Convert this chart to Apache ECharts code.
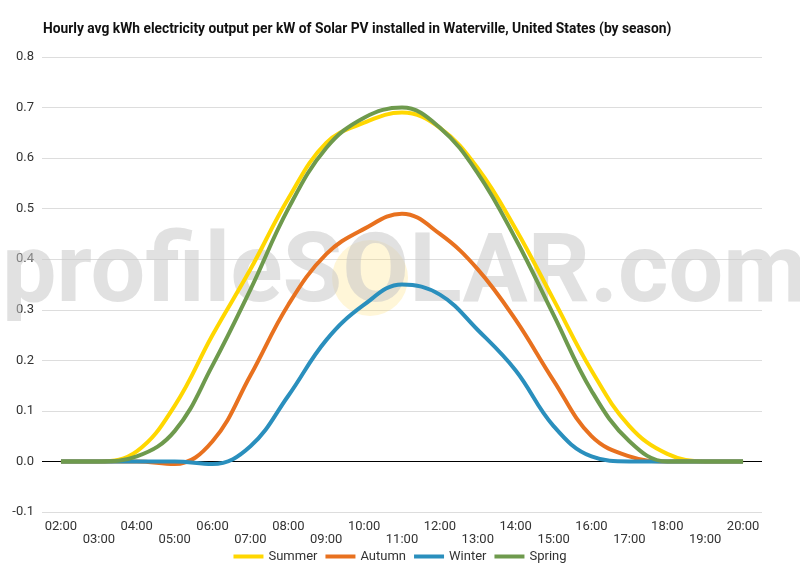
<!DOCTYPE html>
<html><head><meta charset="utf-8">
<script src="https://cdn.jsdelivr.net/npm/echarts@6/dist/echarts.min.js"></script>
<style>html,body{margin:0;padding:0;background:#fff}#c{width:800px;height:570px}</style>
</head><body><div id="c"></div>
<script>
const hours = ['02:00','03:00','04:00','05:00','06:00','07:00','08:00','09:00','10:00','11:00','12:00','13:00','14:00','15:00','16:00','17:00','18:00','19:00','20:00'];
const summer = [0,0,0.02,0.11,0.25,0.38,0.52,0.63,0.67,0.69,0.66,0.58,0.46,0.32,0.18,0.07,0.015,0,0];
const autumn = [0,0,0,-0.005,0.04,0.17,0.31,0.41,0.46,0.49,0.45,0.38,0.28,0.16,0.05,0.01,0,0,0];
const winter = [0,0,0,0,-0.005,0.03,0.13,0.24,0.31,0.35,0.33,0.26,0.18,0.07,0.01,0,0,0,0];
const spring = [0,0,0.01,0.06,0.19,0.34,0.5,0.62,0.68,0.70,0.66,0.57,0.44,0.29,0.14,0.04,0,0,0];
const yTicks = {min:-0.1,max:0.8,interval:0.1};
const chart = echarts.init(document.getElementById('c'));
const mk = (name,data,color)=>({name,type:'line',data,smooth:0.4,symbol:'none',lineStyle:{width:4,color},itemStyle:{color},z:5});
chart.setOption({
  animation:false,
  title:{text:'Hourly avg kWh electricity output per kW of Solar PV installed in Waterville, United States (by season)',left:38,top:18,textStyle:{fontFamily:'Roboto',fontSize:13.8,fontWeight:'bold',color:'#111'}},
  graphic:[
    {type:'circle',shape:{cx:370,cy:278,r:38},style:{fill:'rgba(255,220,100,0.25)'},z:1},
    {type:'text',left:2,top:228,style:{text:'profileSOLAR.com',font:'bold 97px Roboto',fill:'rgba(200,200,200,0.55)'},z:1}
  ],
  legend:{bottom:2,left:'center',itemWidth:30,itemHeight:4,icon:'rect',textStyle:{fontFamily:'Roboto',fontSize:13,color:'#333'},data:['Summer','Autumn','Winter','Spring']},
  grid:{left:42,right:38,top:57,bottom:58},
  xAxis:{type:'category',data:hours,boundaryGap:true,axisTick:{show:false},axisLine:{show:false},
    axisLabel:{interval:0,fontFamily:'Roboto',fontSize:13,color:'#333',formatter:(v,i)=>i%2?'\n'+v:v}},
  yAxis:{type:'value',min:yTicks.min,max:yTicks.max,interval:yTicks.interval,
    axisLabel:{fontFamily:'Roboto',fontSize:13,color:'#333',formatter:v=>v.toFixed(1)},
    splitLine:{lineStyle:{color:'#ddd'}},axisLine:{show:false}},
  series:[
    mk('Summer',summer,'#FFD700'),
    mk('Autumn',autumn,'#E8711F'),
    mk('Winter',winter,'#2A8FBD'),
    Object.assign(mk('Spring',spring,'#6E9A4D'),{markLine:{silent:true,symbol:'none',label:{show:false},lineStyle:{color:'#000',width:1,type:'solid'},data:[{yAxis:0}]}})
  ]
});
</script></body></html>
